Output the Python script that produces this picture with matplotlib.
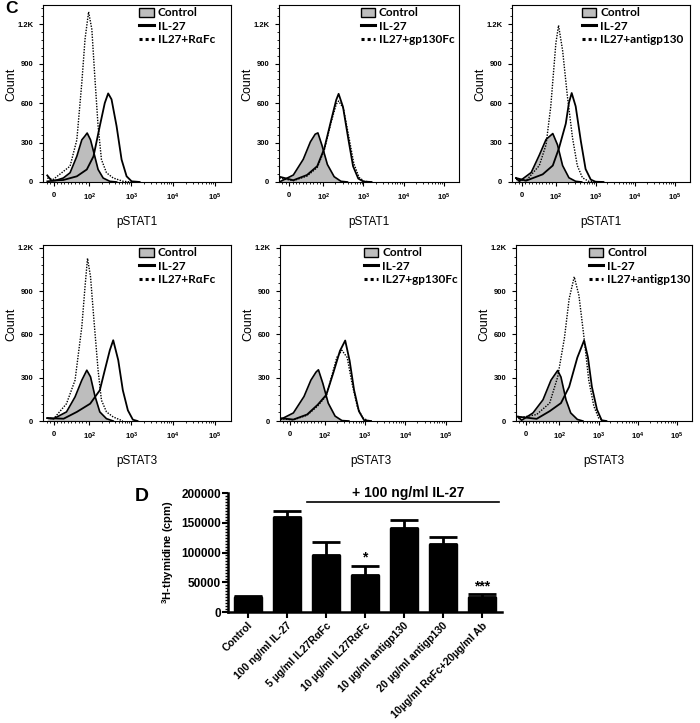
"""Flow histograms of pSTAT1 / pSTAT3 (panel C) and thymidine uptake (panel D)"""

import matplotlib.pyplot as plt
from matplotlib.patches import Patch
from matplotlib.lines import Line2D
from matplotlib.ticker import FixedLocator, MultipleLocator, AutoMinorLocator

plt.rcParams['font.family'] = ['Liberation Sans', 'DejaVu Sans']
plt.rcParams['mathtext.fontset'] = 'custom'
plt.rcParams['mathtext.rm'] = 'Liberation Sans'
plt.rcParams['mathtext.bf'] = 'Liberation Sans:bold'

# ---- panel C data: fluorescence intensity (x) and event count (y) ----
# pSTAT1, IL27 + RaFc
s1a_ctrl_fl = [-18, 6, 27, 46, 65, 79, 88, 94, 107, 129, 162, 214, 309, 447]
s1a_ctrl_n = [5, 12, 30, 70, 195, 320, 350, 372, 320, 220, 95, 30, 5, 0]
s1a_il27_fl = [-18, -6, 27, 65, 93, 126, 178, 234, 282, 339, 447, 589, 776, 1023, 1585]
s1a_il27_n = [50, 10, 15, 43, 95, 195, 425, 600, 673, 628, 425, 170, 43, 5, 0]
s1a_trt_fl = [-18, -1, 46, 65, 79, 88, 98, 115, 135, 162, 195, 257, 372, 646, 1000]
s1a_trt_n = [30, 20, 120, 320, 755, 1085, 1293, 1160, 805, 425, 170, 70, 30, 5, 0]

# pSTAT1, IL27 + gp130Fc
s1b_ctrl_fl = [-25, 12, 41, 62, 76, 84, 96, 126, 186, 275, 398]
s1b_ctrl_n = [5, 53, 172, 305, 363, 373, 278, 133, 40, 5, 0]
s1b_il27_fl = [-29, 12, 52, 82, 105, 155, 209, 240, 309, 417, 550, 741, 1000, 1585]
s1b_il27_n = [40, 13, 53, 120, 252, 464, 623, 670, 570, 330, 120, 26, 3, 0]
s1b_trt_fl = [-29, 12, 52, 82, 105, 155, 209, 240, 316, 427, 575, 776, 1047, 1585]
s1b_trt_n = [30, 10, 45, 110, 240, 450, 590, 615, 560, 350, 140, 35, 5, 0]

# pSTAT1, IL27 + antigp130
s1c_ctrl_fl = [-18, -8, 27, 51, 71, 91, 110, 148, 214, 316, 447]
s1c_ctrl_n = [30, 5, 72, 204, 323, 368, 283, 125, 32, 5, 0]
s1c_il27_fl = [-18, 12, 61, 91, 120, 178, 214, 251, 316, 427, 562, 759, 1000, 1585]
s1c_il27_n = [30, 10, 58, 125, 257, 443, 602, 676, 575, 310, 98, 18, 2, 0]
s1c_trt_fl = [-18, 12, 51, 71, 85, 100, 117, 148, 195, 263, 347, 468, 676, 1000]
s1c_trt_n = [20, 10, 125, 283, 575, 1052, 1190, 1000, 655, 336, 125, 32, 5, 0]

# pSTAT3, IL27 + RaFc
s3a_ctrl_fl = [-18, 0, 36, 60, 79, 93, 107, 135, 178, 257, 372]
s3a_ctrl_n = [20, 16, 63, 167, 283, 352, 306, 178, 63, 16, 0]
s3a_il27_fl = [-18, 28, 65, 105, 178, 234, 309, 372, 490, 631, 832, 1096, 1413]
s3a_il27_n = [20, 16, 63, 120, 213, 352, 491, 560, 422, 213, 74, 9, 0]
s3a_trt_fl = [-18, 0, 36, 60, 79, 88, 95, 107, 129, 162, 195, 257, 372, 631]
s3a_trt_n = [20, 16, 120, 283, 653, 931, 1128, 1000, 700, 352, 144, 63, 28, 0]

# pSTAT3, IL27 + gp130Fc
s3b_ctrl_fl = [-29, 9, 40, 60, 75, 82, 95, 123, 182, 269, 398]
s3b_ctrl_n = [10, 56, 170, 283, 339, 355, 260, 124, 34, 3, 0]
s3b_il27_fl = [-29, 9, 49, 80, 110, 162, 240, 324, 417, 537, 708, 955, 1413]
s3b_il27_n = [20, 10, 45, 113, 181, 328, 486, 558, 418, 215, 68, 5, 0]
s3b_trt_fl = [-29, 9, 49, 80, 110, 148, 200, 269, 363, 479, 646, 871, 1259]
s3b_trt_n = [15, 8, 40, 105, 175, 305, 440, 490, 440, 260, 100, 22, 0]

# pSTAT3, IL27 + antigp130
s3c_ctrl_fl = [-24, -13, 21, 51, 75, 95, 110, 148, 195, 288, 398]
s3c_ctrl_n = [30, 5, 56, 147, 283, 350, 305, 147, 56, 11, 0]
s3c_il27_fl = [-24, 32, 71, 110, 178, 288, 427, 537, 676, 912, 1202, 1585]
s3c_il27_n = [30, 15, 68, 124, 237, 440, 558, 440, 237, 79, 5, 0]
s3c_trt_fl = [-24, 32, 71, 95, 135, 178, 240, 316, 427, 562, 759, 1000, 1318]
s3c_trt_n = [20, 45, 124, 305, 576, 847, 1000, 870, 576, 283, 102, 22, 0]

treat_labels = ['IL27+R\u03b1Fc', 'IL27+gp130Fc', 'IL27+antigp130']
flow_xticks = [0, 100, 1000, 10000, 100000]
flow_xlabels = ['0', r'$\mathbf{10^2}$', r'$\mathbf{10^3}$', r'$\mathbf{10^4}$', r'$\mathbf{10^5}$']
flow_yticks = [0, 300, 600, 900, 1200]
flow_ylabels = ['0', '300', '600', '900', '1.2K']

# ---- panel D data ----
groups = ['Control', '100 ng/ml IL-27', '5 \u00b5g/ml IL27R\u03b1Fc', '10 \u00b5g/ml IL27R\u03b1Fc',
          '10 \u00b5g/ml antigp130', '20 \u00b5g/ml antigp130', '10\u00b5g/ml R\u03b1Fc+20\u00b5g/ml Ab']
cpm = [26000, 160000, 96000, 62000, 142000, 115000, 25500]
cpm_err = [1000, 10500, 22000, 16000, 12500, 11000, 4500]
stars = {3: '*', 6: '***'}

fig = plt.figure(figsize=(7, 7.23), dpi=100)

panels = [
    dict(rect=[0.0614, 0.7483, 0.2686, 0.2448], ytop=1345, lx=0.50, name='pSTAT1', lab=treat_labels[0],
         c=(s1a_ctrl_fl, s1a_ctrl_n), i=(s1a_il27_fl, s1a_il27_n), t=(s1a_trt_fl, s1a_trt_n)),
    dict(rect=[0.3986, 0.7483, 0.2571, 0.2448], ytop=1345, lx=0.44, name='pSTAT1', lab=treat_labels[1],
         c=(s1b_ctrl_fl, s1b_ctrl_n), i=(s1b_il27_fl, s1b_il27_n), t=(s1b_trt_fl, s1b_trt_n)),
    dict(rect=[0.7314, 0.7483, 0.2543, 0.2448], ytop=1345, lx=0.38, name='pSTAT1', lab=treat_labels[2],
         c=(s1c_ctrl_fl, s1c_ctrl_n), i=(s1c_il27_fl, s1c_il27_n), t=(s1c_trt_fl, s1c_trt_n)),
    dict(rect=[0.0614, 0.4177, 0.2686, 0.2434], ytop=1220, lx=0.50, name='pSTAT3', lab=treat_labels[0],
         c=(s3a_ctrl_fl, s3a_ctrl_n), i=(s3a_il27_fl, s3a_il27_n), t=(s3a_trt_fl, s3a_trt_n)),
    dict(rect=[0.4000, 0.4177, 0.2586, 0.2434], ytop=1220, lx=0.45, name='pSTAT3', lab=treat_labels[1],
         c=(s3b_ctrl_fl, s3b_ctrl_n), i=(s3b_il27_fl, s3b_il27_n), t=(s3b_trt_fl, s3b_trt_n)),
    dict(rect=[0.7371, 0.4177, 0.2514, 0.2434], ytop=1220, lx=0.40, name='pSTAT3', lab=treat_labels[2],
         c=(s3c_ctrl_fl, s3c_ctrl_n), i=(s3c_il27_fl, s3c_il27_n), t=(s3c_trt_fl, s3c_trt_n)),
]

gray = '#bdbdbd'
lin_minor = [-20, -10, 10, 20, 30, 40, 50, 60, 70, 80, 90]
log_minor = [k * 10 ** d for d in (2, 3, 4) for k in range(2, 10)]

for p in panels:
    ax = fig.add_axes(p['rect'])
    ax.set_xscale('symlog', linthresh=100, linscale=0.765)
    ax.fill_between(p['c'][0], 0, p['c'][1], color=gray, lw=0)
    ax.plot(p['c'][0], p['c'][1], color='black', lw=1.2)
    ax.plot(p['i'][0], p['i'][1], color='black', lw=1.3)
    ax.plot(p['t'][0], p['t'][1], color='black', lw=1.0, ls=(0, (1, 1)))
    ax.set_xlim(-30, 2.4e5)
    ax.set_ylim(0, p['ytop'])
    ax.xaxis.set_major_locator(FixedLocator(flow_xticks))
    ax.set_xticklabels(flow_xlabels)
    ax.xaxis.set_minor_locator(FixedLocator(lin_minor + log_minor))
    ax.set_yticks(flow_yticks)
    ax.set_yticklabels(flow_ylabels)
    ax.yaxis.set_minor_locator(AutoMinorLocator(5))
    ax.tick_params(which='major', length=3, width=0.8, labelsize=5.5, pad=4)
    ax.tick_params(which='minor', length=1.6, width=0.6)
    for lbl in ax.get_xticklabels() + ax.get_yticklabels():
        lbl.set_fontweight('bold')
    for s in ax.spines.values():
        s.set_linewidth(0.8)

    handles = [Patch(facecolor=gray, edgecolor='black', lw=1.0),
               Line2D([], [], color='black', lw=2.2),
               Line2D([], [], color='black', lw=2.2, ls=(0, (1, 1)))]
    ax.legend(handles, ['Control', 'IL-27', p['lab']], loc='upper left',
              bbox_to_anchor=(p['lx'], 1.0), frameon=False, borderaxespad=0.1,
              borderpad=0.1, handlelength=1.2, handleheight=0.85, handletextpad=0.35,
              labelspacing=0.2, prop={'family': ['Lato', 'DejaVu Sans'],
                                      'weight': 'bold', 'size': 8.5})

    l, b, w, h = p['rect']
    fig.text(l + w / 2, b - 0.055, p['name'], ha='center', va='center', fontsize=8.5)
    fig.text(l - 0.045, b + h * 0.55, 'Count', ha='center', va='center', rotation=90, fontsize=9)

fig.text(0.008, 0.998, 'C', ha='left', va='top', fontsize=12.5, fontweight='bold')

# ---- panel D ----
ax = fig.add_axes([0.3257, 0.1535, 0.391, 0.1646])
pos = list(range(len(groups)))
ax.bar(pos, cpm, width=0.72, color='black', edgecolor='black',
       yerr=[[0] * len(cpm), cpm_err], capsize=10,
       error_kw=dict(elinewidth=2, capthick=2, ecolor='black'))
ax.set_xlim(-0.51, 6.51)
ax.set_ylim(0, 200000)
ax.yaxis.set_major_locator(MultipleLocator(50000))
ax.yaxis.set_minor_locator(MultipleLocator(5000))
ax.set_xticks(pos)
ax.set_xticklabels(groups, rotation=45, ha='right', rotation_mode='anchor',
                   fontsize=7.6, fontweight='bold')
for lbl in ax.get_yticklabels():
    lbl.set_fontweight('bold')
ax.tick_params(axis='y', which='major', length=4, width=1.5, labelsize=8.5, pad=1)
ax.tick_params(axis='y', which='minor', length=2.2, width=1.0)
ax.tick_params(axis='x', length=4, width=1.5, pad=2)
for side in ('top', 'right'):
    ax.spines[side].set_visible(False)
for side in ('left', 'bottom'):
    ax.spines[side].set_linewidth(1.8)
ax.set_ylabel(r'$\mathbf{^3}$H-thymidine (cpm)', fontsize=8, fontweight='bold', labelpad=4)

for k, mark in stars.items():
    ax.text(k, cpm[k] + cpm_err[k] + 1500, mark, ha='center', va='bottom',
            fontsize=10, fontweight='bold')

ax.plot([1.51, 6.44], [185000, 185000], color='black', lw=1.2, clip_on=False)
ax.text(4.1, 189000, '+ 100 ng/ml IL-27', ha='center', va='bottom',
        fontsize=10, fontweight='bold', clip_on=False)

fig.text(0.203, 0.313, 'D', ha='center', va='center', fontsize=14, fontweight='bold')

fig.savefig('out.png', dpi=100)
